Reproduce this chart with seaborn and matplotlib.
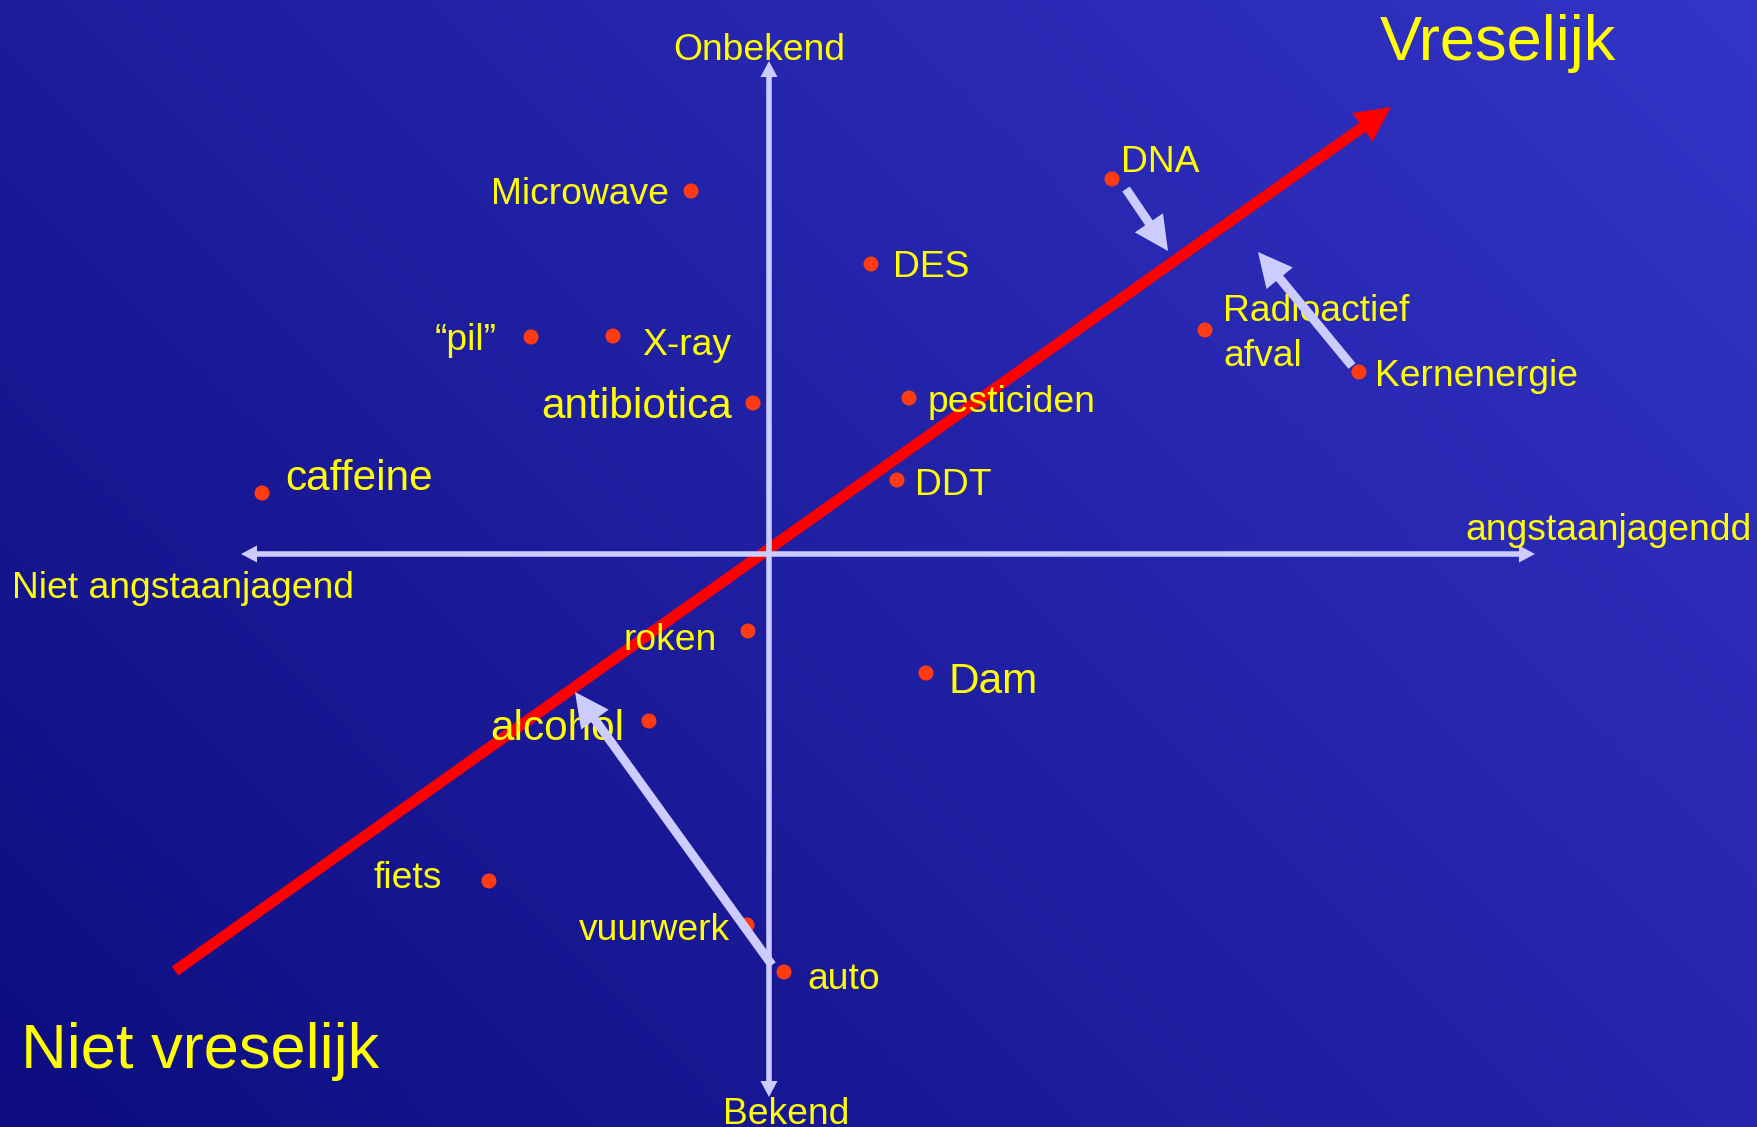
import numpy as np
import pandas as pd
import seaborn as sns
import matplotlib.pyplot as plt

sns.set_theme(style="white")
plt.rcParams['font.family'] = ['Liberation Sans', 'DejaVu Sans']

# risk map: x = angstaanjagend (dread), y = onbekend (unknown)
items = ["Microwave", "DNA", "DES", "\u201cpil\u201d", "X-ray", "Radioactief\nafval",
         "Kernenergie", "antibiotica", "pesticiden", "caffeine", "DDT", "roken",
         "Dam", "alcohol", "fiets", "vuurwerk", "auto"]
angst = [-0.78, 3.43, 1.02, -2.38, -1.56, 4.36, 5.90, -0.16, 1.40, -5.07, 1.28,
         -0.21, 1.57, -1.20, -2.80, -0.22, 0.15]
onbekend = [3.63, 3.75, 2.90, 2.17, 2.18, 2.24, 1.82, 1.51, 1.56, 0.61, 0.74,
            -0.77, -1.19, -1.67, -3.27, -3.71, -4.18]
big_items = ["antibiotica", "caffeine", "Dam", "alcohol"]

# label placement (points) relative to the dot
label_dx = [-15.7, 6.8, 15.5, -24.8, 20.7, 13, 11.3, -14.8, 13.3, 16.5, 12.9,
            -22.7, 16.2, -17.6, -33.8, -12.5, 16.6]
label_dy = [0, 15, 0.6, 0, -3.8, 3.5, 0, 0.3, 0, 13.2, -0.9,
            -4, -3.5, -2.2, 4.4, -1.2, -2.7]
label_ha = ["right", "left", "left", "right", "left", "left", "left", "right", "left",
            "left", "left", "right", "left", "right", "right", "right", "left"]

# red "vreselijk" direction and the three shifts
trend_from = (-5.94, -4.17)
trend_to = (6.22, 4.47)
shift_from = [(3.57, 3.65), (5.83, 1.88), (0.03, -4.11)]
shift_to = [(3.99, 3.03), (4.89, 3.02), (-1.94, -1.38)]

x_axis = (-5.28, 7.66)
y_axis = (-5.43, 4.93)

df = pd.DataFrame({"item": items, "angst": angst, "onbekend": onbekend})

yellow = "#ffff00"
lav = "#ccccff"
xlim = (-7.69, 9.89)
ylim = (-5.73, 5.54)

fig = plt.figure(figsize=(17.58, 11.27), dpi=100)
ax = fig.add_axes([0, 0, 1, 1])

# background gradient, dark lower-left to lighter upper-right
gx, gy = np.meshgrid(np.linspace(0, 1, 400), np.linspace(0, 1, 260))
t = (gx * 1758 + gy * 1127) / (1758 + 1127)
c0 = np.array([13, 13, 128]) / 255
c1 = np.array([52, 52, 200]) / 255
grad = c0 + t[..., None] * (c1 - c0)
ax.imshow(grad, extent=(*xlim, *ylim), origin="lower", aspect="auto", zorder=0)

# red trend arrow
ax.arrow(trend_from[0], trend_from[1], trend_to[0] - trend_from[0], trend_to[1] - trend_from[1],
         width=0.11, head_width=0.35, head_length=0.35, length_includes_head=True,
         fc="#ff0000", ec="none", zorder=1)

# axes with arrow heads at both ends
for end in x_axis:
    ax.arrow(0, 0, end, 0, width=0.055, head_width=0.17, head_length=0.16,
             length_includes_head=True, fc=lav, ec="none", zorder=2)
for end in y_axis:
    ax.arrow(0, 0, 0, end, width=0.055, head_width=0.17, head_length=0.16,
             length_includes_head=True, fc=lav, ec="none", zorder=2)

sns.scatterplot(data=df, x="angst", y="onbekend", ax=ax, color="#ff3b12", s=117,
                edgecolor="none", linewidth=0, zorder=3, legend=False)

for i, name in enumerate(items):
    size = 30.5 if name in big_items else 26.8
    ax.annotate(name, (angst[i], onbekend[i]), xytext=(label_dx[i], label_dy[i]),
                textcoords="offset points", ha=label_ha[i], va="center_baseline",
                color=yellow, fontsize=size, linespacing=1.35, zorder=4)

# light shift arrows on top
for (x0, y0), (x1, y1) in zip(shift_from, shift_to):
    ax.arrow(x0, y0, x1 - x0, y1 - y0, width=0.09, head_width=0.34, head_length=0.34,
             length_includes_head=True, fc=lav, ec="none", zorder=5)

# axis titles
ax.text(-0.10, 5.08, "Onbekend", ha="center", va="center_baseline", color=yellow, fontsize=26.8)
ax.text(0.17, -5.57, "Bekend", ha="center", va="center_baseline", color=yellow, fontsize=26.8)
ax.text(6.96, 0.28, "angstaanjagendd", ha="left", va="center_baseline", color=yellow, fontsize=26.8)
ax.text(-7.57, -0.31, "Niet angstaanjagend", ha="left", va="center_baseline", color=yellow, fontsize=26.8)
ax.text(6.11, 5.17, "Vreselijk", ha="left", va="center_baseline", color=yellow, fontsize=45.5)
ax.text(-7.48, -4.91, "Niet vreselijk", ha="left", va="center_baseline", color=yellow, fontsize=45.5)

ax.set_xlim(*xlim)
ax.set_ylim(*ylim)
ax.axis("off")

fig.savefig("out.png", dpi=100)
plt.close(fig)
